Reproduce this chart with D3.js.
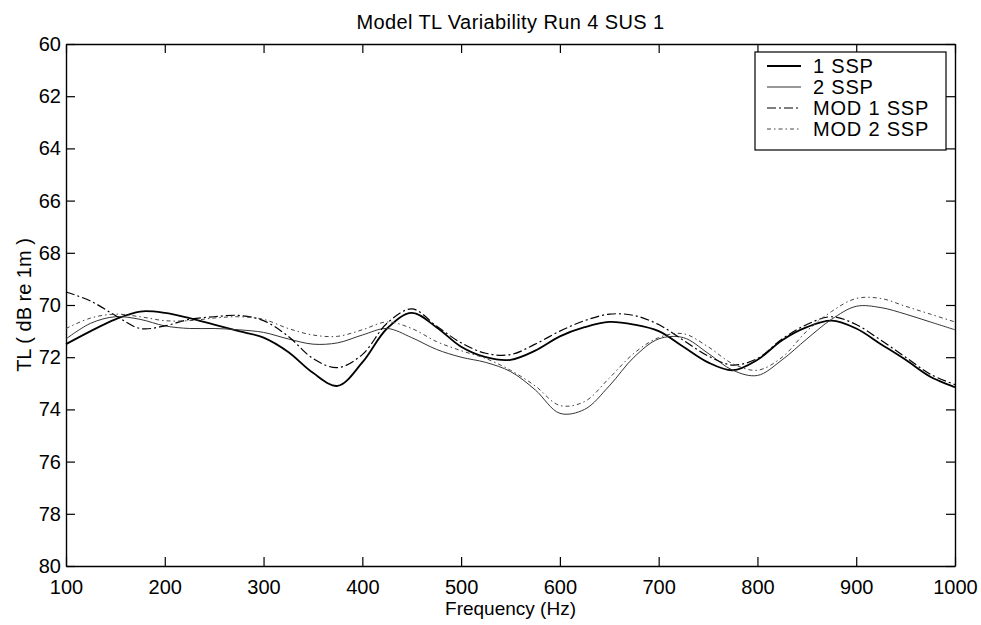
<!DOCTYPE html>
<html>
<head>
<meta charset="utf-8">
<script src="https://cdn.jsdelivr.net/npm/d3@7/dist/d3.min.js"></script>
<style>
  body { margin: 0; background: #fff; }
  text { font-family: "Liberation Sans", Arial, sans-serif; fill: #000; }
</style>
</head>
<body>
<div id="chart"></div>
<script>
// frequency grid (Hz)
var freqs = [100,125,150,175,200,225,250,275,300,325,350,375,400,425,450,475,500,525,550,575,
  600,625,650,675,700,725,750,775,800,825,850,875,900,925,950,975,1000];

var ssp1 = [71.5,71.0,70.55,70.25,70.3,70.5,70.75,71.0,71.25,71.8,72.6,73.1,72.2,70.9,70.3,70.85,71.6,72.0,72.1,71.75,
  71.2,70.85,70.65,70.75,71.0,71.6,72.2,72.5,72.1,71.35,70.85,70.6,70.9,71.5,72.1,72.75,73.15];
var ssp2 = [71.3,70.7,70.45,70.55,70.8,70.9,70.9,70.95,71.05,71.3,71.5,71.45,71.15,70.9,71.25,71.7,72.0,72.2,72.55,73.25,
  74.15,74.0,73.1,72.0,71.3,71.25,71.85,72.5,72.7,72.1,71.3,70.55,70.05,70.1,70.35,70.65,70.95];
var mod1 = [69.5,69.85,70.4,70.9,70.8,70.55,70.45,70.4,70.6,71.2,72.05,72.4,71.9,70.7,70.15,70.8,71.45,71.85,71.9,71.5,
  71.0,70.6,70.35,70.4,70.75,71.35,71.95,72.3,72.05,71.3,70.75,70.45,70.75,71.35,72.0,72.65,73.05];
var mod2 = [70.9,70.5,70.35,70.45,70.6,70.6,70.5,70.45,70.55,70.9,71.15,71.2,70.95,70.65,70.9,71.4,71.75,72.05,72.5,73.1,
  73.85,73.7,72.8,71.85,71.25,71.1,71.6,72.25,72.5,72.0,71.0,70.25,69.75,69.75,70.05,70.35,70.65];

var seriesNames = ["1 SSP", "2 SSP", "MOD 1 SSP", "MOD 2 SSP"];
var xTicks = [100,200,300,400,500,600,700,800,900,1000];
var yTicks = [60,62,64,66,68,70,72,74,76,78,80];

var width = 981, height = 625;
var plotLeft = 66, plotRight = 955, plotTop = 44, plotBottom = 566;

var seriesStyle = [
  {stroke: "#000", width: 1.8, dash: null},
  {stroke: "#333", width: 1, dash: null},
  {stroke: "#000", width: 1.2, dash: "9,3,2,3"},
  {stroke: "#444", width: 1, dash: "4,3,1.5,3"}
];

var xScale = d3.scaleLinear().domain([100, 1000]).range([plotLeft, plotRight]);
var yScale = d3.scaleLinear().domain([60, 80]).range([plotTop, plotBottom]);

var svg = d3.select("#chart").append("svg")
  .attr("width", width)
  .attr("height", height);

svg.append("rect")
  .attr("width", width)
  .attr("height", height)
  .attr("fill", "#fff");

// axes with inward ticks on all four sides
svg.append("g")
  .attr("transform", "translate(0," + plotBottom + ")")
  .call(d3.axisBottom(xScale).tickValues(xTicks).tickSizeInner(-9).tickSizeOuter(0).tickPadding(14).tickFormat(d3.format("d")))
  .style("font-size", "20px");
svg.append("g")
  .attr("transform", "translate(0," + plotTop + ")")
  .call(d3.axisTop(xScale).tickValues(xTicks).tickSizeInner(-9).tickSizeOuter(0).tickFormat(""));
svg.append("g")
  .attr("transform", "translate(" + plotLeft + ",0)")
  .call(d3.axisLeft(yScale).tickValues(yTicks).tickSizeInner(-9).tickSizeOuter(0).tickPadding(5).tickFormat(d3.format("d")))
  .style("font-size", "20px");
svg.append("g")
  .attr("transform", "translate(" + plotRight + ",0)")
  .call(d3.axisRight(yScale).tickValues(yTicks).tickSizeInner(-9).tickSizeOuter(0).tickFormat(""));

svg.selectAll(".domain").attr("stroke", "#000").attr("stroke-width", 1.4);
svg.selectAll(".tick line").attr("stroke", "#000").attr("stroke-width", 1.2);
svg.selectAll(".tick text").attr("fill", "#000").style("font-family", "Liberation Sans, Arial, sans-serif");

// lines
var line = d3.line()
  .x(function(d, i) { return xScale(freqs[i]); })
  .y(function(d) { return yScale(d); })
  .curve(d3.curveCatmullRom.alpha(0.5));

[ssp1, ssp2, mod1, mod2].forEach(function(vals, i) {
  svg.append("path")
    .datum(vals)
    .attr("d", line)
    .attr("fill", "none")
    .attr("stroke", seriesStyle[i].stroke)
    .attr("stroke-width", seriesStyle[i].width)
    .attr("stroke-dasharray", seriesStyle[i].dash);
});

// title and axis labels
svg.append("text")
  .attr("x", (plotLeft + plotRight) / 2)
  .attr("y", 29)
  .attr("text-anchor", "middle")
  .style("font-size", "20px")
  .style("letter-spacing", "0.4px")
  .text("Model TL Variability Run 4 SUS 1");

svg.append("text")
  .attr("x", (plotLeft + plotRight) / 2)
  .attr("y", 615)
  .attr("text-anchor", "middle")
  .style("font-size", "19px")
  .text("Frequency (Hz)");

svg.append("text")
  .attr("transform", "translate(31," + (plotTop + plotBottom) / 2 + ") rotate(-90)")
  .attr("text-anchor", "middle")
  .style("font-size", "20px")
  .text("TL ( dB re 1m )");

// legend
var legend = svg.append("g");
legend.append("rect")
  .attr("x", 755)
  .attr("y", 52)
  .attr("width", 191)
  .attr("height", 98)
  .attr("fill", "#fff")
  .attr("stroke", "#000")
  .attr("stroke-width", 1.2);

seriesNames.forEach(function(name, i) {
  var ly = 66 + i * 21;
  legend.append("line")
    .attr("x1", 767).attr("x2", 801)
    .attr("y1", ly).attr("y2", ly)
    .attr("stroke", seriesStyle[i].stroke)
    .attr("stroke-width", seriesStyle[i].width)
    .attr("stroke-dasharray", seriesStyle[i].dash);
  legend.append("text")
    .attr("x", 813)
    .attr("y", ly + 7)
    .style("font-size", "20px")
    .style("letter-spacing", "0.8px")
    .text(name);
});
</script>
</body>
</html>
